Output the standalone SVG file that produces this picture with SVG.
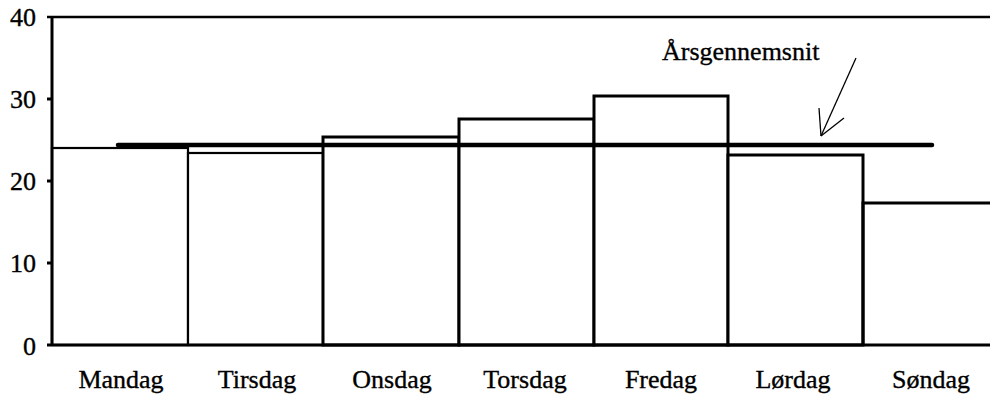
<svg xmlns="http://www.w3.org/2000/svg" width="990" height="395" viewBox="0 0 990 395">
<style>
.t{fill:#000;stroke:#000;stroke-width:0.35}
.tick{font-size:26px;text-anchor:end}
.day{font-size:26px;text-anchor:middle}
.bar{fill:#fff;stroke:#000;stroke-width:3}
.ax{stroke:#000;stroke-width:3;fill:none}
</style>
<rect width="990" height="395" fill="#fff"/>
<g id="bars">
<g id="bar-mandag"><rect class="bar" x="52" y="148" width="136" height="197" style="stroke-width:2.2"/></g>
<g id="bar-tirsdag"><rect class="bar" x="188" y="153" width="135" height="192" style="stroke-width:2.2"/></g>
<g id="bar-onsdag"><rect class="bar" x="323" y="137" width="136" height="208"/></g>
<g id="bar-torsdag"><rect class="bar" x="459" y="119" width="135" height="226"/></g>
<g id="bar-fredag"><rect class="bar" x="594" y="96" width="134" height="249"/></g>
<g id="bar-lordag"><rect class="bar" x="728" y="155" width="135" height="190"/></g>
<g id="bar-sondag"><path class="ax" d="M863 345 V203 H992"/></g>
</g>
<g id="axes">
<line class="ax" x1="52" y1="16" x2="52" y2="346"/>
<line class="ax" x1="47" y1="17" x2="990" y2="17" style="stroke-width:2.5"/>
<line class="ax" x1="47" y1="345" x2="990" y2="345"/>
<line class="ax" x1="47" y1="99" x2="52" y2="99"/>
<line class="ax" x1="47" y1="181" x2="52" y2="181"/>
<line class="ax" x1="47" y1="263" x2="52" y2="263"/>
<g font-family="Liberation Serif, Times New Roman, serif" class="t">
<text class="tick" x="36" y="26">40</text>
<text class="tick" x="36" y="108">30</text>
<text class="tick" x="36" y="190">20</text>
<text class="tick" x="36" y="272">10</text>
<text class="tick" x="36" y="355">0</text>
</g>
</g>
<g id="day-labels" font-family="Liberation Serif, Times New Roman, serif" class="t">
<text class="day" x="121" y="388">Mandag</text>
<text class="day" x="257" y="388">Tirsdag</text>
<text class="day" x="392" y="388">Onsdag</text>
<text class="day" x="525" y="388">Torsdag</text>
<text class="day" x="661" y="388">Fredag</text>
<text class="day" x="793" y="388">Lørdag</text>
<text class="day" x="931" y="388">Søndag</text>
</g>
<g id="average">
<line x1="118" y1="145" x2="932" y2="145" stroke="#000" stroke-width="4.5" stroke-linecap="round"/>
<text x="662" y="60" font-family="Liberation Serif, Times New Roman, serif" font-size="26" class="t">Årsgennemsnit</text>
</g>
<g id="connectors" stroke="#000" stroke-width="1.3" fill="none">
<line x1="856" y1="58" x2="821" y2="136"/>
<line x1="821" y1="136" x2="819" y2="108"/>
<line x1="821" y1="136" x2="844" y2="118"/>
</g>
</svg>
